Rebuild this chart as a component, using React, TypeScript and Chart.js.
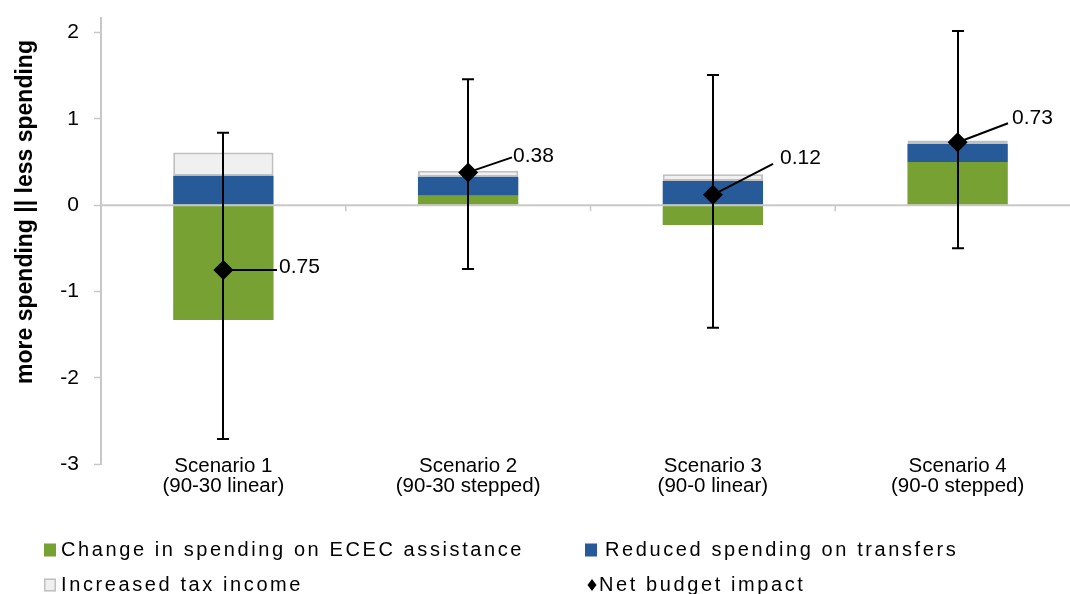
import React, { useEffect, useRef } from "react";
import { Chart, registerables } from "chart.js";

Chart.register(...registerables);

// ---- data ----
const categories = [
  ["Scenario 1", "(90-30 linear)"],
  ["Scenario 2", "(90-30 stepped)"],
  ["Scenario 3", "(90-0 linear)"],
  ["Scenario 4", "(90-0 stepped)"],
];
const seriesNames = [
  "Change in spending on ECEC assistance",
  "Reduced spending on transfers",
  "Increased tax income",
  "Net budget impact",
];
const ececChange = [-1.33, 0.11, -0.23, 0.5];
const reducedTransfers = [0.34, 0.22, 0.28, 0.21];
const increasedTax = [0.27, 0.07, 0.08, 0.04];
const netImpact = [-0.75, 0.38, 0.12, 0.73];
const netLabels = ["0.75", "0.38", "0.12", "0.73"];
const rangeHigh = [0.84, 1.46, 1.51, 2.02];
const rangeLow = [-2.71, -0.74, -1.42, -0.5];
const yTicks = [-3, -2, -1, 0, 1, 2];
const yTitle = "more spending || less spending";

// ---- styling / layout ----
const GREEN = "#77a133";
const BLUE = "#265a99";
const GRAY_FILL = "#f0f0f0";
const GRAY_BORDER = "#c0c0c0";
const AXIS = "#c8c8c8";
const FONT = '"Liberation Sans", Arial, sans-serif';

const labelOffsets = [
  { dx: 54, dy: 0, tx: 2, ty: -3 },
  { dx: 44, dy: -15, tx: 1, ty: -1 },
  { dx: 60, dy: -31, tx: 7, ty: -6 },
  { dx: 50, dy: -19, tx: 4, ty: -5 },
];
const legendPos = [
  { x: 44, y: 550, tx: 17 },
  { x: 585, y: 550, tx: 20 },
  { x: 44, y: 585, tx: 17 },
  { x: 587, y: 585, tx: 12 },
];

const overlay = {
  id: "overlay",
  beforeDatasetDraw(chart: any, args: any) {
    if (args.index !== 3) return;
    const { ctx, chartArea } = chart;
    const x = chart.scales.x;
    const y = chart.scales.y;
    const zeroY = y.getPixelForValue(0);
    ctx.save();
    ctx.strokeStyle = AXIS;
    ctx.lineWidth = 2;
    ctx.beginPath();
    ctx.moveTo(chartArea.left, zeroY);
    ctx.lineTo(chartArea.right, zeroY);
    ctx.stroke();
    ctx.lineWidth = 1.5;
    for (let i = 0; i < categories.length; i++) {
      const bx =
        i < categories.length - 1
          ? (x.getPixelForValue(i) + x.getPixelForValue(i + 1)) / 2
          : chartArea.right;
      ctx.beginPath();
      ctx.moveTo(bx, zeroY);
      ctx.lineTo(bx, zeroY + 6);
      ctx.stroke();
    }
    ctx.strokeStyle = "#000";
    ctx.fillStyle = "#000";
    ctx.lineWidth = 2;
    ctx.font = `21px ${FONT}`;
    ctx.textAlign = "left";
    ctx.textBaseline = "middle";
    categories.forEach((_, i) => {
      const cx = Math.round(x.getPixelForValue(i));
      const top = y.getPixelForValue(rangeHigh[i]);
      const bot = y.getPixelForValue(rangeLow[i]);
      ctx.beginPath();
      ctx.moveTo(cx, top);
      ctx.lineTo(cx, bot);
      ctx.moveTo(cx - 6, top);
      ctx.lineTo(cx + 6, top);
      ctx.moveTo(cx - 6, bot);
      ctx.lineTo(cx + 6, bot);
      ctx.stroke();
      const ny = y.getPixelForValue(netImpact[i]);
      const o = labelOffsets[i];
      ctx.beginPath();
      ctx.moveTo(cx, ny);
      ctx.lineTo(cx + o.dx, ny + o.dy);
      ctx.stroke();
      ctx.fillText(netLabels[i], cx + o.dx + o.tx, ny + o.dy + o.ty);
    });
    ctx.restore();
  },
  afterDraw(chart: any) {
    const { ctx } = chart;
    const x = chart.scales.x;
    const y = chart.scales.y;

    // category labels (overlapping the plot bottom, as in the original)
    ctx.save();
    ctx.font = `20.5px ${FONT}`;
    ctx.fillStyle = "#000";
    ctx.textAlign = "center";
    ctx.textBaseline = "alphabetic";
    const base = y.getPixelForValue(-3);
    categories.forEach((lines, i) => {
      const cx = x.getPixelForValue(i);
      lines.forEach((t, j) => ctx.fillText(t, cx, base + 8 + j * 20));
    });
    ctx.restore();

    // y axis title
    ctx.save();
    ctx.translate(31.5, 212);
    ctx.rotate(-Math.PI / 2);
    ctx.font = `bold 23px ${FONT}`;
    ctx.fillStyle = "#000";
    ctx.textAlign = "center";
    ctx.textBaseline = "alphabetic";
    ctx.fillText(yTitle, 0, 0);
    ctx.restore();

    // legend
    ctx.save();
    ctx.font = `20px ${FONT}`;
    ctx.textAlign = "left";
    ctx.textBaseline = "middle";
    (ctx as any).letterSpacing = "2.6px";
    const ds = chart.data.datasets;
    ds.forEach((d: any, i: number) => {
      const p = legendPos[i];
      if (d.type === "line") {
        const r = 6;
        ctx.fillStyle = "#000";
        ctx.beginPath();
        ctx.moveTo(p.x + 5, p.y - r);
        ctx.lineTo(p.x + 5 + r * 0.75, p.y);
        ctx.lineTo(p.x + 5, p.y + r);
        ctx.lineTo(p.x + 5 - r * 0.75, p.y);
        ctx.closePath();
        ctx.fill();
      } else {
        ctx.fillStyle = d.backgroundColor;
        ctx.fillRect(p.x, p.y - 6.5, 12, 13);
        if (d.borderWidth) {
          ctx.strokeStyle = d.borderColor;
          ctx.lineWidth = 1.5;
          ctx.strokeRect(p.x + 0.75, p.y - 5.75, 10.5, 11.5);
        }
      }
      ctx.fillStyle = "#000";
      ctx.fillText(d.label, p.x + p.tx, p.y);
    });
    ctx.restore();
  },
};

export default function App() {
  const ref = useRef<HTMLCanvasElement>(null);
  useEffect(() => {
    if (!ref.current) return;
    const chart = new Chart(ref.current, {
      type: "bar",
      data: {
        labels: categories,
        datasets: [
          {
            type: "bar",
            label: seriesNames[0],
            data: ececChange,
            backgroundColor: GREEN,
            borderWidth: 0,
            order: 1,
          },
          {
            type: "bar",
            label: seriesNames[1],
            data: reducedTransfers,
            backgroundColor: BLUE,
            borderWidth: 0,
            order: 1,
          },
          {
            type: "bar",
            label: seriesNames[2],
            data: increasedTax,
            backgroundColor: GRAY_FILL,
            borderColor: GRAY_BORDER,
            borderWidth: 2,
            borderSkipped: false,
            order: 1,
          },
          {
            type: "line",
            label: seriesNames[3],
            data: netImpact,
            showLine: false,
            pointStyle: "rectRot",
            pointRadius: 10,
            pointHoverRadius: 10,
            pointBackgroundColor: "#000",
            pointBorderColor: "#000",
            pointBorderWidth: 0,
            order: 0,
          } as any,
        ],
      },
      options: {
        animation: false,
        responsive: false,
        events: [],
        layout: { padding: { top: 18, right: 10, bottom: 0, left: 0 } },
        datasets: {
          bar: { categoryPercentage: 1, barPercentage: 0.41 },
        } as any,
        plugins: {
          legend: { display: false },
          tooltip: { enabled: false },
        },
        scales: {
          x: {
            stacked: true,
            grid: { display: false, drawTicks: false },
            border: { display: false },
            ticks: { display: false },
            afterFit: (s: any) => {
              s.height = 130;
              s.paddingLeft = 0;
              s.paddingRight = 0;
            },
          },
          y: {
            stacked: true,
            min: -3,
            max: 2.17,
            afterBuildTicks: (s: any) => {
              s.ticks = yTicks.map((v) => ({ value: v }));
            },
            grid: {
              drawOnChartArea: false,
              tickLength: 7,
              tickColor: AXIS,
              tickWidth: 1.5,
            },
            border: { color: AXIS, width: 2 },
            ticks: {
              color: "#000",
              font: { family: FONT, size: 21 },
              padding: 15,
            },
            afterFit: (s: any) => {
              s.width = 101;
              s.paddingTop = 0;
              s.paddingBottom = 0;
            },
          },
        },
      },
      plugins: [overlay],
    });
    return () => chart.destroy();
  }, []);
  return (
    <div
      style={{
        position: "fixed",
        left: 0,
        top: 0,
        width: 1070,
        height: 594,
        overflow: "hidden",
        background: "#fff",
      }}
    >
      <canvas ref={ref} width={1090} height={594} style={{ display: "block" }} />
    </div>
  );
}
